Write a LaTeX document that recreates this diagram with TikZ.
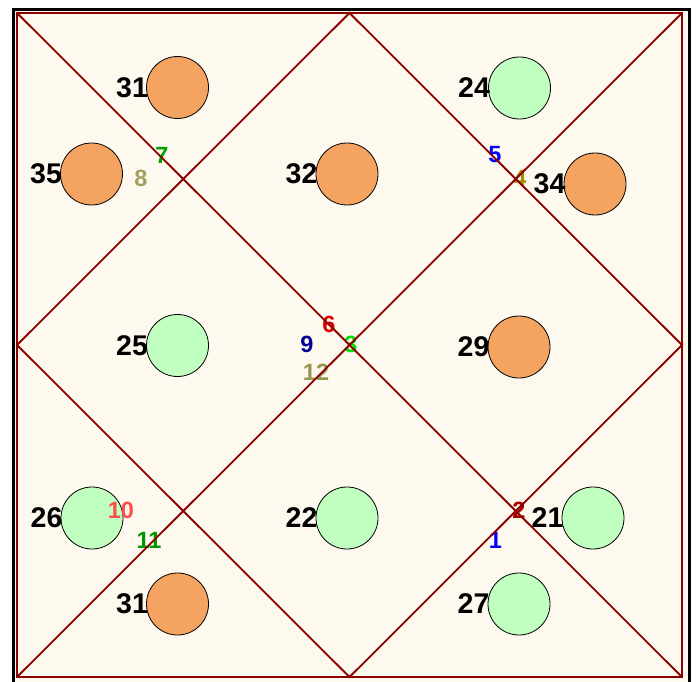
\documentclass[tikz,border=0pt]{standalone}
\usepackage{fontspec}
\setmainfont{Liberation Sans}
\definecolor{cream}{RGB}{254,249,238}
\definecolor{linered}{RGB}{139,0,0}
\definecolor{orangefill}{RGB}{244,164,96}
\definecolor{greenfill}{RGB}{193,255,193}
\definecolor{cA}{RGB}{0,0,255}
\definecolor{cB}{RGB}{170,0,0}
\definecolor{cC}{RGB}{0,220,0}
\definecolor{cD}{RGB}{160,144,0}
\definecolor{cE}{RGB}{0,0,255}
\definecolor{cF}{RGB}{220,0,0}
\definecolor{cG}{RGB}{0,160,0}
\definecolor{cH}{RGB}{160,160,96}
\definecolor{cI}{RGB}{0,0,150}
\definecolor{cJ}{RGB}{255,77,77}
\definecolor{cK}{RGB}{0,150,0}
\definecolor{cL}{RGB}{150,150,80}
\begin{document}
\begin{tikzpicture}[x=1pt,y=-1pt,
  planet/.style={circle,draw=black,line width=0.8pt,minimum size=62pt,inner sep=0pt},
  orangeplanet/.style={planet,fill=orangefill},
  greenplanet/.style={planet,fill=greenfill},
  deg/.style={anchor=east,inner sep=0pt,font=\fontsize{28.5}{28.5}\selectfont\bfseries},
  house/.style={inner sep=0pt,font=\fontsize{23.5}{23.5}\selectfont\bfseries},
  chartline/.style={draw=linered,line width=1.8pt}]
\useasboundingbox (0,0) rectangle (696,682);
\clip (0,0) rectangle (696,682);
\fill[white] (0,0) rectangle (696,682);
\fill[cream] (13.5,9.5) rectangle (689.5,700);
\draw[line width=3pt,black] (13.5,9.5) rectangle (689.5,700);
% planets
\node[orangeplanet] (p1) at (177.5,87.5) {};
\node[orangeplanet] (p2) at (91.5,174) {};
\node[orangeplanet] (p3) at (347,174) {};
\node[greenplanet] (p4) at (519.5,88) {};
\node[orangeplanet] (p5) at (595,184) {};
\node[greenplanet] (p6) at (177.5,345.5) {};
\node[orangeplanet] (p7) at (519,347) {};
\node[greenplanet] (p8) at (92,518) {};
\node[orangeplanet] (p9) at (177.5,604) {};
\node[greenplanet] (p10) at (347,518) {};
\node[greenplanet] (p11) at (593,518) {};
\node[greenplanet] (p12) at (519,604) {};
% house numbers (over the planets, under the lines)
\node[house,text=cA] (h1) at (495.5,540) {1};
\node[house,text=cB] (h2) at (519,510) {2};
\node[house,text=cC] (h3) at (351,344) {3};
\node[house,text=cD] (h4) at (520,178) {4};
\node[house,text=cE] (h5) at (495,155) {5};
\node[house,text=cF] (h6) at (329,324) {6};
\node[house,text=cG] (h7) at (162,155) {7};
\node[house,text=cH] (h8) at (141,178) {8};
\node[house,text=cI] (h9) at (307,344) {9};
\node[house,text=cJ] (h10) at (121,510) {10};
\node[house,text=cK] (h11) at (149,540) {11};
\node[house,text=cL] (h12) at (316,372) {12};
% chart corners and midpoints
\coordinate (tl) at (17,13);
\coordinate (tr) at (682,13);
\coordinate (br) at (682,677);
\coordinate (bl) at (17,677);
\coordinate (mt) at (349.5,13);
\coordinate (mr) at (682,345);
\coordinate (mb) at (349.5,677);
\coordinate (ml) at (17,345);
\draw[chartline] (tl) rectangle (br);
\draw[chartline] (tl) -- (br);
\draw[chartline] (tr) -- (bl);
\draw[chartline] (mt) -- (mr) -- (mb) -- (ml) -- cycle;
% degree labels
\node[deg] (d1) at ([xshift=2pt]p1.west) {31};
\node[deg] (d2) at ([xshift=2pt]p2.west) {35};
\node[deg] (d3) at ([xshift=2pt]p3.west) {32};
\node[deg] (d4) at ([xshift=2pt]p4.west) {24};
\node[deg] (d5) at ([xshift=2pt]p5.west) {34};
\node[deg] (d6) at ([xshift=2pt]p6.west) {25};
\node[deg] (d7) at ([xshift=2pt]p7.west) {29};
\node[deg] (d8) at ([xshift=2pt]p8.west) {26};
\node[deg] (d9) at ([xshift=2pt]p9.west) {31};
\node[deg] (d10) at ([xshift=2pt]p10.west) {22};
\node[deg] (d11) at ([xshift=2pt]p11.west) {21};
\node[deg] (d12) at ([xshift=2pt]p12.west) {27};
\end{tikzpicture}
\end{document}
